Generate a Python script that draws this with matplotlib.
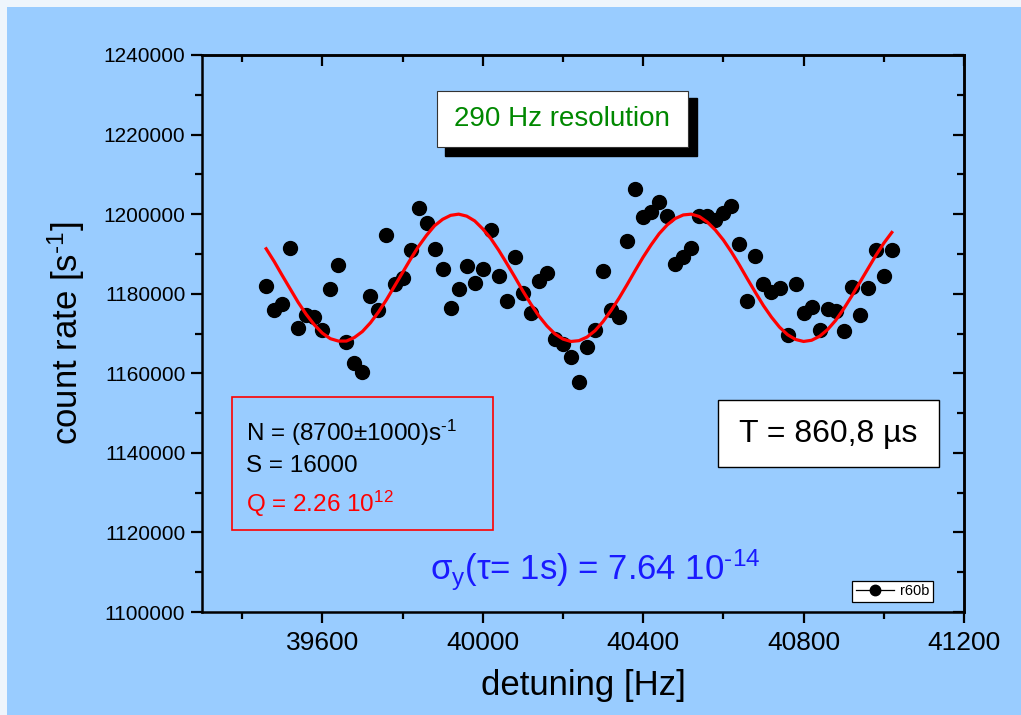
import matplotlib
matplotlib.use('Agg')
import matplotlib.pyplot as plt
from matplotlib.patches import Rectangle
from matplotlib.ticker import MultipleLocator

plt.rcParams['font.family'] = ['Liberation Sans', 'DejaVu Sans']
plt.rcParams['mathtext.fontset'] = 'custom'
plt.rcParams['mathtext.rm'] = 'Liberation Sans'
plt.rcParams['mathtext.it'] = 'Liberation Sans'
plt.rcParams['mathtext.bf'] = 'Liberation Sans:bold'

# measured points, 20 Hz steps starting at 39460 Hz
freq_start = 39460
freq_step = 20
counts = [1182000, 1175900, 1177400, 1191600, 1171400, 1174600, 1174200, 1171000,
          1181300, 1187100, 1167800, 1162500, 1160300, 1179500, 1175800, 1194800,
          1182400, 1183900, 1191100, 1201500, 1197800, 1191200, 1186300, 1176400,
          1181200, 1187000, 1182700, 1186200, 1196000, 1184500, 1178100, 1189200,
          1180200, 1175200, 1183200, 1185200, 1168600, 1167300, 1164100, 1157800,
          1166700, 1170900, 1185600, 1175900, 1174200, 1193300, 1206300, 1199300,
          1200600, 1203000, 1199500, 1187400, 1189300, 1191500, 1199600, 1199500,
          1198500, 1200300, 1202000, 1192500, 1178100, 1189400, 1182500, 1180400,
          1181500, 1169700, 1182500, 1175100, 1176600, 1171000, 1176200, 1175700,
          1170600, 1181600, 1174600, 1181500, 1191100, 1184400, 1191000]

# fitted fringe, read at the same frequencies
fit = [1191300, 1188100, 1184600, 1181200, 1177800, 1174800, 1172200, 1170100,
       1168700, 1168100, 1168100, 1169000, 1170500, 1172700, 1175400, 1178500,
       1181900, 1185300, 1188700, 1191900, 1194700, 1197100, 1198700, 1199700,
       1200000, 1199500, 1198300, 1196300, 1193900, 1190900, 1187600, 1184200,
       1180700, 1177400, 1174400, 1171900, 1169900, 1168600, 1168000, 1168200,
       1169100, 1170700, 1173000, 1175800, 1178900, 1182300, 1185800, 1189200,
       1192300, 1195100, 1197300, 1198900, 1199800, 1200000, 1199400, 1198000,
       1196000, 1193500, 1190500, 1187200, 1183700, 1180300, 1177000, 1174100,
       1171600, 1169700, 1168500, 1168000, 1168300, 1169300, 1171000, 1173300,
       1176200, 1179400, 1182800, 1186200, 1189600, 1192700, 1195400]

freqs = [freq_start + freq_step * i for i in range(len(counts))]

W, H = 1021, 715
BLUE = '#99ccff'


def fx(px):
    return px / W


def fy(py):
    return 1 - py / H


fig = plt.figure(figsize=(W / 100, H / 100), dpi=100)
fig.patch.set_facecolor('#eef5fc')
fig.patches.append(Rectangle((fx(7), 0), 1, fy(7), transform=fig.transFigure,
                             facecolor=BLUE, edgecolor='none', zorder=-10))

ax = fig.add_axes([fx(202), fy(612), fx(964) - fx(202), fy(55) - fy(612)])
ax.set_facecolor(BLUE)
ax.set_zorder(1)

ax.plot(freqs, counts, 'o', color='black', markersize=10, label='r60b',
        linestyle='-', linewidth=0)
ax.plot(freqs, fit, color='red', linewidth=2.3)

ax.set_xlim(39300, 41200)
ax.set_ylim(1100000, 1240000)
ax.xaxis.set_major_locator(MultipleLocator(400))
ax.xaxis.set_minor_locator(MultipleLocator(200))
ax.yaxis.set_major_locator(MultipleLocator(20000))
ax.yaxis.set_minor_locator(MultipleLocator(10000))
ax.ticklabel_format(useOffset=False, style='plain')

for sp in ax.spines.values():
    sp.set_linewidth(1.8)
ax.tick_params(which='major', direction='out', length=8, width=1.6)
ax.tick_params(which='minor', direction='out', length=5, width=1.6)
ax.tick_params(axis='x', labelsize=19, pad=6)
ax.tick_params(axis='y', labelsize=15, pad=4)

for side in ('right', 'top'):
    if side == 'right':
        sec = ax.secondary_yaxis('right')
        sec.yaxis.set_major_locator(MultipleLocator(20000))
        sec.yaxis.set_minor_locator(MultipleLocator(10000))
        sec.set_yticklabels([])
    else:
        sec = ax.secondary_xaxis('top')
        sec.xaxis.set_major_locator(MultipleLocator(400))
        sec.xaxis.set_minor_locator(MultipleLocator(200))
        sec.set_xticklabels([])
    sec.tick_params(which='major', direction='in', length=8, width=1.6)
    sec.tick_params(which='minor', direction='in', length=5, width=1.6)
    for sp in sec.spines.values():
        sp.set_linewidth(1.8)

ax.set_xlabel('detuning [Hz]', fontsize=25, labelpad=10)
ax.set_ylabel('count rate [s$^{\u2010 1}$]', fontsize=25, labelpad=12)

ax.legend(loc='lower right', bbox_to_anchor=(0.959, 0.018), borderaxespad=0,
          fontsize=10.5, frameon=True, fancybox=False, edgecolor='black',
          facecolor='white', framealpha=1, handlelength=2.6, markerscale=0.75,
          borderpad=0.25, handletextpad=0.4)
leg = ax.get_legend()
leg.get_frame().set_linewidth(0.9)
leg.legend_handles[0].set_linewidth(0.9)

# resolution box with shadow
fig.patches.append(Rectangle((fx(445), fy(156)), fx(697) - fx(445), fy(98) - fy(156),
                             transform=fig.transFigure, facecolor='black',
                             edgecolor='black', zorder=5))
fig.patches.append(Rectangle((fx(437), fy(147)), fx(688) - fx(437), fy(91) - fy(147),
                             transform=fig.transFigure, facecolor='white',
                             edgecolor='#333333', linewidth=0.8, zorder=6))
fig.text(fx(562), fy(119), '290 Hz resolution', color='#008800', fontsize=20,
         ha='center', va='center', zorder=7)

# N, S, Q box
fig.patches.append(Rectangle((fx(232), fy(530)), fx(493) - fx(232), fy(397) - fy(530),
                             transform=fig.transFigure, facecolor='none',
                             edgecolor='red', linewidth=1.2, zorder=6))
fig.text(fx(246), fy(433), 'N = (8700±1000)s$^{\u20101}$', fontsize=17.5, color='black',
         ha='left', va='center', zorder=7)
fig.text(fx(246), fy(466), 'S = 16000', fontsize=17.5, color='black',
         ha='left', va='center', zorder=7)
fig.text(fx(246), fy(504), 'Q = 2.26 10$^{12}$', fontsize=17.5, color='red',
         ha='left', va='center', zorder=7)

# T box
fig.patches.append(Rectangle((fx(718), fy(467)), fx(939) - fx(718), fy(400) - fy(467),
                             transform=fig.transFigure, facecolor='white',
                             edgecolor='black', linewidth=1.0, zorder=6))
fig.text(fx(828), fy(434), 'T = 860,8 µs', fontsize=23, color='black',
         ha='center', va='center', zorder=7)

fig.text(fx(430), fy(580), '$\\sigma_y(\\tau$= 1s) = 7.64 10$^{\u201014}$', fontsize=25,
         color='#1a1aff', ha='left', va='baseline', zorder=7)

fig.savefig('out.png', dpi=100, facecolor=fig.get_facecolor())
